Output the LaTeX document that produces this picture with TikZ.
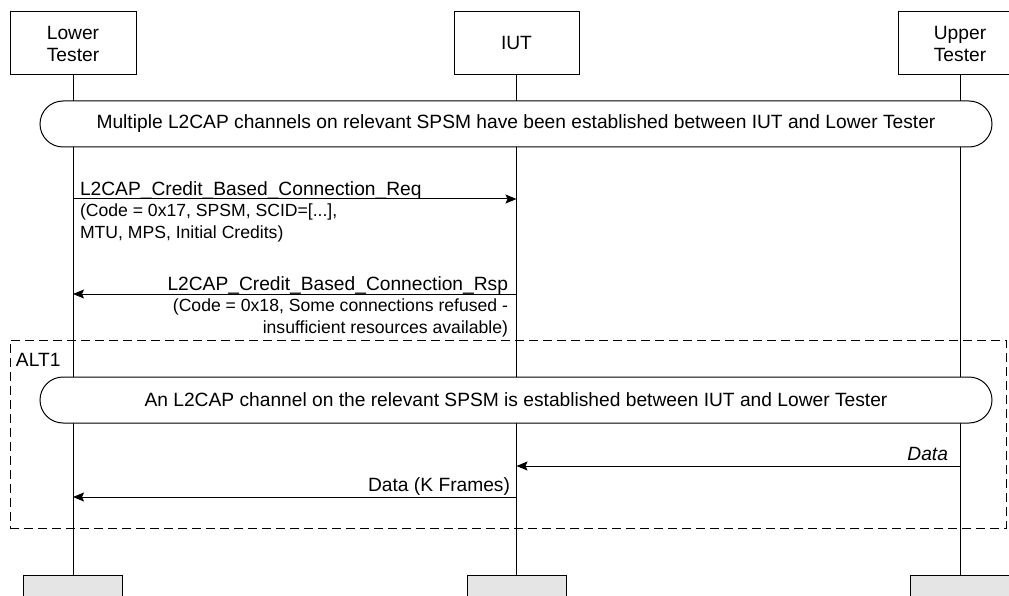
\documentclass[tikz,border=0pt]{standalone}
\usepackage{fontspec}
\setmainfont{Liberation Sans}
\usetikzlibrary{arrows.meta}
\begin{document}
\begin{tikzpicture}[x=1pt,y=-1pt,
  every node/.style={inner sep=0pt, outer sep=0pt},
  main/.style={font=\fontsize{19.2}{22}\selectfont},
  sub/.style={font=\fontsize{17.6}{22}\selectfont},
  actor/.style={draw, line width=1pt, minimum height=63pt, align=center, main},
  endbox/.style={draw, fill=black!10, line width=1pt, minimum width=99pt, minimum height=30pt},
  life/.style={line width=1pt},
  banner/.style={draw, fill=white, line width=1pt, rounded corners=23pt, minimum width=952pt, minimum height=46pt, main},
  msg/.style={line width=1pt, -{Stealth[length=11pt,width=9pt,inset=2pt]}},
  altbox/.style={draw, dash pattern=on 9pt off 5pt, line width=1pt, minimum width=996pt, minimum height=188pt}
]
\useasboundingbox (0,0) rectangle (1009,596);
\clip (0,0) rectangle (1009,596);

% actors
\node[actor, minimum width=126pt] (lt) at (73,43.5) {Lower\\Tester};
\node[actor, minimum width=125pt] (iut) at (516.5,43) {IUT};
\node[actor, minimum width=124pt] (ut) at (960,43.5) {Upper\\Tester};

\node[endbox] (ltb) at (73,590) {};
\node[endbox] (iutb) at (516.5,590) {};
\node[endbox] (utb) at (960,590) {};

% ALT frame
\node[altbox] (alt) at (508,434) {};
\node[main, anchor=base west] (altl) at (16,366) {ALT1};

% lifelines
\draw[life] (lt.south) -- (ltb.north);
\draw[life] (iut.south) -- (iutb.north);
\draw[life] (ut.south) -- (utb.north);

% banners
\node[banner] (b1) at (516,124) {Multiple L2CAP channels on relevant SPSM have been established between IUT and Lower Tester};
\node[banner] (b2) at (516,400) {An L2CAP channel on the relevant SPSM is established between IUT and Lower Tester};

% message 1
\coordinate (m1s) at (73,199);
\coordinate (m1e) at (516.5,199);
\draw[msg] (m1s) -- (m1e);
\node[main, anchor=base west] (m1l) at (80,196) {L2CAP\_Credit\_Based\_Connection\_Req};
\node[sub, anchor=base west] (m1a) at (80,216.5) {(Code = 0x17, SPSM, SCID=[...],};
\node[sub, anchor=base west] (m1b) at (80,238) {MTU, MPS, Initial Credits)};

% message 2
\coordinate (m2s) at (516.5,294);
\coordinate (m2e) at (73,294);
\draw[msg] (m2s) -- (m2e);
\node[main, anchor=base east] (m2l) at (508,290) {L2CAP\_Credit\_Based\_Connection\_Rsp};
\node[sub, anchor=base east] (m2a) at (508,311) {(Code = 0x18, Some connections refused -};
\node[sub, anchor=base east] (m2b) at (508,333) {insufficient resources available)};

% message 3
\coordinate (m3s) at (960,466);
\coordinate (m3e) at (516.5,466);
\draw[msg] (m3s) -- (m3e);
\node[main, anchor=base east] (m3l) at (948,460) {\itshape Data};

% message 4
\coordinate (m4s) at (516.5,497);
\coordinate (m4e) at (73,497);
\draw[msg] (m4s) -- (m4e);
\node[main, anchor=base east] (m4l) at (510,491) {Data (K Frames)};
\end{tikzpicture}
\end{document}
